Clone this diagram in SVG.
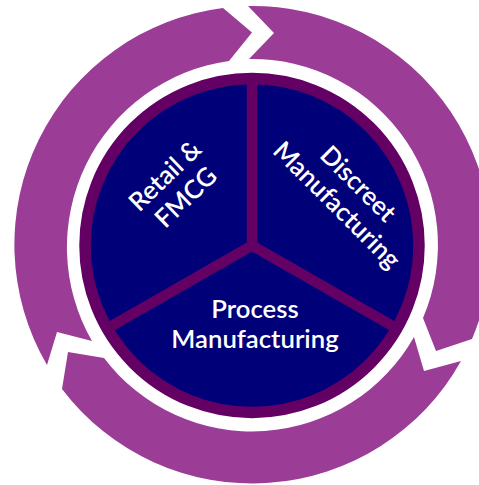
<svg xmlns="http://www.w3.org/2000/svg" width="479" height="485" viewBox="0 0 479 485">
<style>
.ring{fill:#9b3c96}
.lbl{font-family:Lato,"Liberation Sans",sans-serif;font-size:25.700px;font-weight:600;fill:#fff;text-anchor:middle}
.spoke{stroke:#640064;stroke-width:10.500;fill:none}
</style>
<rect width="479" height="485" fill="#fff"/>
<g id="arrows">
<path id="arrow-left" class="ring" d="M223 8L252 32.500L229 61A188 188 0 0 0 92 341L57 332L47 365A238.500 238.500 0 0 1 223 8Z"/>
<path id="arrow-right" class="ring" d="M248 6L274 33L249 59A186 186 0 0 1 423 318L436 351L472 339A239 239 0 0 0 248 6Z"/>
<path id="arrow-bottom" class="ring" d="M414 337L424 371L461 361A239 239 0 0 1 62 389L68 352L104 358A186 186 0 0 0 414 337Z"/>
</g>
<g id="wheel">
<circle cx="252" cy="245.500" r="167" fill="#000078" stroke="#640064" stroke-width="11.500"/>
</g>
<g id="connectors">
<path class="spoke" d="M252 78V245.500M252 245.500L108 328M252 245.500L396 328"/>
</g>
<g id="node-retail"><text class="lbl" transform="translate(176 187) rotate(-44)"><tspan x="0" y="-7">Retail &amp;</tspan><tspan x="0" y="23">FMCG</tspan></text></g>
<g id="node-discreet"><text class="lbl" transform="translate(347 195) rotate(45)"><tspan x="0" y="-7">Discreet</tspan><tspan x="0" y="23">Manufacturing</tspan></text></g>
<g id="node-process"><text class="lbl" x="255" y="318">Process</text><text class="lbl" x="255" y="348">Manufacturing</text></g>
</svg>
